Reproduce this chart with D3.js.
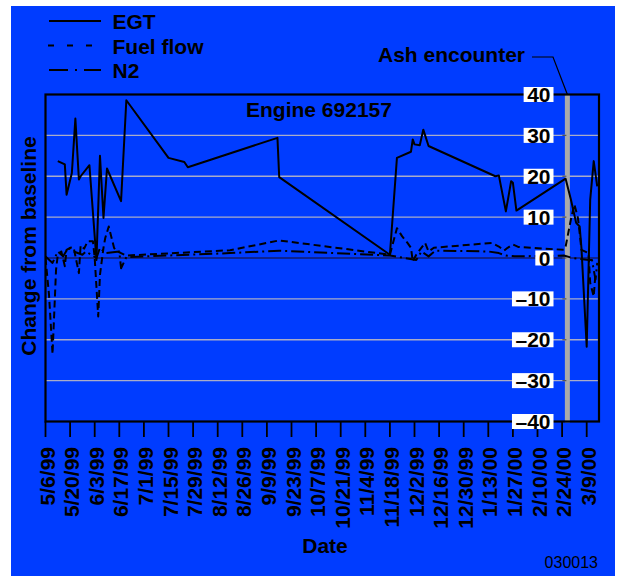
<!DOCTYPE html>
<html>
<head>
<meta charset="utf-8">
<script src="https://cdn.jsdelivr.net/npm/d3@7"></script>
<style>
  body { margin: 0; background: #fff; }
  svg { font-family: "Liberation Sans", Arial, sans-serif; }
  .bold { font-weight: bold; font-size: 21px; }
</style>
</head>
<body>
<div id="graf"></div>
<script>
// values
const egtDates = ["5/13/99", "5/17/99", "5/18/99", "5/21/99", "5/23/99", "5/25/99", "5/26/99", "5/31/99", "6/4/99",
  "6/6/99", "6/8/99", "6/10/99", "6/18/99", "6/21/99", "7/15/99", "7/24/99", "7/26/99", "9/15/99", "9/16/99",
  "11/18/99", "11/22/99", "11/30/99", "12/1/99", "12/2/99", "12/5/99", "12/7/99", "12/10/99", "1/17/00", "1/19/00",
  "1/23/00", "1/26/00", "1/27/00", "1/29/00", "2/26/00", "2/29/00", "3/3/00", "3/5/00", "3/6/00", "3/9/00",
  "3/11/00", "3/13/00", "3/15/00"]
const egtValues = [23.7, 22.9, 15.5, 20.8, 34.1, 19.2, 20, 22.7, -0.5,
  25, 9.8, 21.9, 13.9, 38.6, 24.5, 23.5, 22.2, 29.4, 19.8,
  0.8, 24.5, 26, 29, 27.8, 27.6, 31.4, 27.4, 20, 20.2,
  11.4, 18.8, 18.4, 11.6, 19.4, 14.3, 8.6, 7.7, 2.5, -21.7,
  14.3, 23.7, 17.5]

const fuelDates = ["5/6/99", "5/8/99", "5/10/99", "5/12/99", "5/13/99", "5/15/99", "5/17/99", "5/18/99", "5/20/99",
  "5/22/99", "5/25/99", "5/26/99", "5/28/99", "5/30/99", "6/2/99", "6/3/99", "6/5/99", "6/6/99", "6/8/99",
  "6/9/99", "6/11/99", "6/14/99", "6/15/99", "6/21/99", "8/19/99", "9/16/99", "11/18/99", "11/22/99", "11/25/99",
  "11/28/99", "11/30/99", "12/1/99", "12/3/99", "12/8/99", "12/10/99", "12/13/99", "1/15/00", "1/19/00", "1/22/00",
  "1/24/00", "1/27/00", "1/30/00", "2/25/00", "2/26/00", "2/29/00", "3/2/00", "3/4/00", "3/5/00", "3/6/00",
  "3/10/00", "3/11/00", "3/13/00", "3/14/00"]
const fuelValues = [0, -9, -23.5, -2.9, 0.8, 1.6, -2, 2, 2.5,
  2.6, -3.7, 3.1, 2.3, 4.1, 4.1, 0, -14.3, -4.1, 2.5,
  4.9, 7.7, 2.5, 1.8, 0.6, 1.9, 4.3, 0.8, 7.3, 5.3,
  3.7, 2.5, -0.8, 0.8, 3.7, 1.6, 2.5, 3.7, 2.8, 1.8,
  2.5, 3.3, 2.7, 2, 2.8, 9.4, 13.1, 9.8, 6.1, 2,
  1.2, -6.1, -9.4, -3.7]

const n2Dates = ["5/6/99", "5/10/99", "5/13/99", "5/16/99", "5/19/99", "5/22/99", "5/27/99", "5/29/99", "6/4/99",
  "6/6/99", "6/9/99", "6/17/99", "6/18/99", "6/21/99", "8/19/99", "9/16/99", "11/18/99", "12/3/99", "12/6/99",
  "12/10/99", "12/14/99", "1/13/00", "1/19/00", "1/23/00", "1/28/00", "2/25/00", "3/1/00", "3/9/00", "3/12/00",
  "3/14/00", "3/15/00"]
const n2Values = [0.4, -1.2, 1.6, 0.4, 2.5, 1.6, 0.8, 1.6, 0,
  2.5, 1.2, 1.6, -2.5, 0.2, 1.2, 1.8, 0.6, -0.5, 1.6,
  0.4, 1.8, 1.6, 1.2, 0.6, 0.4, 0.6, 0, -0.4, -0.5,
  -5.3, -1.2]

const xTickLabels = ["5/6/99", "5/20/99", "6/3/99", "6/17/99", "7/1/99", "7/15/99", "7/29/99", "8/12/99",
  "8/26/99", "9/9/99", "9/23/99", "10/7/99", "10/21/99", "11/4/99", "11/18/99", "12/2/99", "12/16/99",
  "12/30/99", "1/13/00", "1/27/00", "2/10/00", "2/24/00", "3/9/00"]
const yTicks = [-40, -30, -20, -10, 0, 10, 20, 30, 40]
const seriesNames = ["EGT", "Fuel flow", "N2"]
const ashDate = "2/27/00"
const domainDates = ["5/6/99", "3/16/00"]

const parse = d3.timeParse("%m/%d/%y")
const graf = d3.select("#graf")

const svg = graf.append("svg")
  .attr("width", 618)
  .attr("height", 576)

svg.append("rect")
  .attr("x", 11).attr("y", 6)
  .attr("width", 604).attr("height", 570)
  .attr("fill", "#003cff")

const plot = { left: 45.5, right: 599, top: 94.5, bottom: 421.5 }

const x = d3.scaleTime().domain(domainDates.map(parse)).range([plot.left, plot.right])
const y = d3.scaleLinear().domain([-40, 40]).range([plot.bottom, plot.top])

// grid lines
svg.append("g")
  .selectAll("line")
  .data(yTicks.filter(d => d != 0 && Math.abs(d) != 40))
  .join("line")
  .attr("x1", plot.left).attr("x2", plot.right)
  .attr("y1", d => y(d)).attr("y2", d => y(d))
  .attr("stroke", "#a9acc8")
  .attr("stroke-width", 1.4)

svg.append("line")
  .attr("x1", plot.left).attr("x2", plot.right)
  .attr("y1", y(0)).attr("y2", y(0))
  .attr("stroke", "#0d2290")
  .attr("stroke-width", 2)

// ash encounter bar
const ashX = x(parse(ashDate))
svg.append("rect")
  .attr("x", ashX - 2.5).attr("y", plot.top)
  .attr("width", 5).attr("height", plot.bottom - plot.top + 1)
  .attr("fill", "#aaaaaa")

svg.append("g")
  .selectAll("line")
  .data(yTicks)
  .join("line")
  .attr("x1", ashX - 5).attr("x2", ashX - 1)
  .attr("y1", d => y(d)).attr("y2", d => y(d))
  .attr("stroke", "#555")
  .attr("stroke-width", 1.2)

svg.append("polyline")
  .attr("points", `532,57 553,57 ${ashX},${plot.top}`)
  .attr("fill", "none")
  .attr("stroke", "black")
  .attr("stroke-width", 1.2)

svg.append("text")
  .attr("class", "bold")
  .attr("x", 378).attr("y", 62)
  .text("Ash encounter")

// series
svg.append("clipPath")
  .attr("id", "clip")
  .append("rect")
  .attr("x", plot.left).attr("y", plot.top)
  .attr("width", plot.right - plot.left).attr("height", plot.bottom - plot.top)

const line = d3.line()
  .x(d => x(d.date))
  .y(d => y(d.value))

const toPoints = (dates, values) => dates.map((d, i) => ({ date: parse(d), value: values[i] }))

const series = [
  { name: seriesNames[0], points: toPoints(egtDates, egtValues), dash: null, legendDash: null },
  { name: seriesNames[1], points: toPoints(fuelDates, fuelValues), dash: "7,4", legendDash: "6,13" },
  { name: seriesNames[2], points: toPoints(n2Dates, n2Values), dash: "13,4,2,4", legendDash: "19,7,2,7" }
]

svg.append("g")
  .attr("clip-path", "url(#clip)")
  .selectAll("path")
  .data(series)
  .join("path")
  .attr("d", d => line(d.points))
  .attr("fill", "none")
  .attr("stroke", "black")
  .attr("stroke-width", 2)
  .attr("stroke-linejoin", "round")
  .attr("stroke-dasharray", d => d.dash)

// frame
svg.append("rect")
  .attr("x", plot.left).attr("y", plot.top)
  .attr("width", plot.right - plot.left).attr("height", plot.bottom - plot.top)
  .attr("fill", "none")
  .attr("stroke", "black")
  .attr("stroke-width", 2.2)

// x axis
const xTicks = xTickLabels.map(parse)
const xAxis = svg.append("g")
xAxis.selectAll("line")
  .data(xTicks)
  .join("line")
  .attr("x1", d => x(d)).attr("x2", d => x(d))
  .attr("y1", plot.bottom).attr("y2", 437)
  .attr("stroke", "black")
  .attr("stroke-width", 1.8)

xAxis.selectAll("text")
  .data(xTickLabels)
  .join("text")
  .attr("class", "bold")
  .attr("transform", d => `translate(${x(parse(d)) + 1.5}, 447) rotate(-90)`)
  .attr("text-anchor", "end")
  .attr("dy", "0.36em")
  .text(d => d)

// y labels in white boxes
const yLab = svg.append("g")
  .selectAll("g")
  .data(yTicks)
  .join("g")

yLab.append("text")
  .attr("class", "bold")
  .attr("x", 550.5)
  .attr("y", d => y(d) + 7.5)
  .attr("text-anchor", "end")
  .text(d => d < 0 ? "\u2013" + Math.abs(d) : d)
  .each(function (d) {
    const w = this.getComputedTextLength()
    d3.select(this.parentNode)
      .insert("rect", "text")
      .attr("x", 550.5 - w - 3.5)
      .attr("y", y(d) - 7.5)
      .attr("width", w + 6.5)
      .attr("height", 15)
      .attr("fill", "white")
  })

// titles
svg.append("text")
  .attr("class", "bold")
  .attr("x", 319).attr("y", 117)
  .attr("text-anchor", "middle")
  .text("Engine 692157")

svg.append("text")
  .attr("class", "bold")
  .attr("transform", "translate(36, 246) rotate(-90)")
  .attr("text-anchor", "middle")
  .text("Change from baseline")

svg.append("text")
  .attr("class", "bold")
  .attr("x", 325).attr("y", 553)
  .attr("text-anchor", "middle")
  .text("Date")

svg.append("text")
  .attr("x", 598).attr("y", 568)
  .attr("text-anchor", "end")
  .attr("font-size", 16)
  .text("030013")

// legend
const legend = svg.append("g")
  .selectAll("g")
  .data(series)
  .join("g")
  .attr("transform", (d, i) => `translate(0, ${21 + i * 24.5})`)

legend.append("line")
  .attr("x1", (d, i) => i == 1 ? 48 : 49).attr("x2", (d, i) => i == 1 ? 94 : 101)
  .attr("stroke", "black")
  .attr("stroke-width", 2)
  .attr("stroke-dasharray", d => d.legendDash)

legend.append("text")
  .attr("class", "bold")
  .attr("x", 112.5).attr("y", 8.3)
  .text(d => d.name)
</script>
</body>
</html>
